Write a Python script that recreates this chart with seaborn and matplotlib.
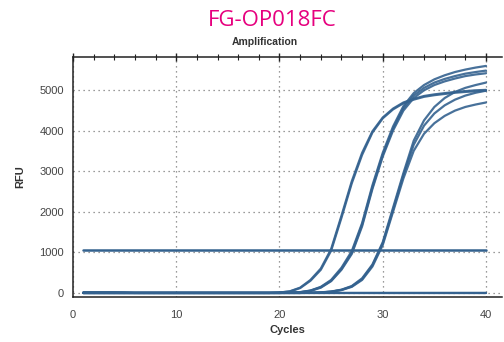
import pandas as pd
import matplotlib
matplotlib.use("Agg")
import matplotlib.pyplot as plt
import seaborn as sns
from matplotlib.ticker import MultipleLocator


# Cycle numbers and RFU readings per well
cycles = list(range(1, 41))

# early group, Ct ~25
well_a1 = [0, 0, 0, 0, 0, 0, 0, 0, 0, 0, 0, 0, 0, 0, 0, 0, 0, 0, 0, 10,
           40, 130, 320, 600, 1080, 1900, 2750, 3450, 3980, 4320,
           4540, 4690, 4780, 4850, 4890, 4920, 4950, 4970, 4990, 5000]
well_a2 = [0, 0, 0, 0, 0, 0, 0, 0, 0, 0, 0, 0, 0, 0, 0, 0, 0, 0, 0, 10,
           35, 120, 300, 570, 1040, 1850, 2700, 3400, 3950, 4300,
           4520, 4670, 4760, 4830, 4870, 4900, 4930, 4950, 4965, 4980]

# middle group, Ct ~27
well_b1 = [0, 0, 0, 0, 0, 0, 0, 0, 0, 0, 0, 0, 0, 0, 0, 0, 0, 0, 0, 0,
           5, 20, 60, 150, 320, 620, 1030, 1720, 2650, 3450,
           4100, 4600, 4920, 5120, 5260, 5360, 5440, 5500, 5550, 5590]
well_b2 = [0, 0, 0, 0, 0, 0, 0, 0, 0, 0, 0, 0, 0, 0, 0, 0, 0, 0, 0, 0,
           5, 18, 55, 140, 300, 590, 990, 1680, 2600, 3400,
           4050, 4550, 4860, 5050, 5180, 5270, 5340, 5400, 5440, 5475]
well_b3 = [0, 0, 0, 0, 0, 0, 0, 0, 0, 0, 0, 0, 0, 0, 0, 0, 0, 0, 0, 0,
           5, 15, 50, 130, 290, 570, 960, 1640, 2560, 3360,
           4000, 4490, 4800, 4990, 5120, 5210, 5280, 5340, 5380, 5410]

# late group, Ct ~30
well_c1 = [0, 0, 0, 0, 0, 0, 0, 0, 0, 0, 0, 0, 0, 0, 0, 0, 0, 0, 0, 0,
           0, 0, 5, 15, 35, 80, 170, 360, 700, 1250,
           2100, 2950, 3750, 4250, 4580, 4800, 4950, 5050, 5120, 5180]
well_c2 = [0, 0, 0, 0, 0, 0, 0, 0, 0, 0, 0, 0, 0, 0, 0, 0, 0, 0, 0, 0,
           0, 0, 5, 12, 30, 75, 160, 340, 680, 1220,
           2050, 2900, 3650, 4120, 4420, 4620, 4760, 4860, 4930, 4980]
well_c3 = [0, 0, 0, 0, 0, 0, 0, 0, 0, 0, 0, 0, 0, 0, 0, 0, 0, 0, 0, 0,
           0, 0, 5, 12, 30, 70, 150, 320, 650, 1180,
           2000, 2820, 3500, 3920, 4180, 4360, 4490, 4580, 4640, 4690]

# negative controls
well_n1 = [20, 20, 20, 20, 15, 0, 0, 0, 0, 0, 0, 0, 0, 0, 0, 0, 0, 0, 0, 0,
           0, 0, 0, 0, 0, 0, 0, 0, 0, 0, 0, 0, 0, 0, 0, 0, 0, 0, 0, 0]
well_n2 = [0, 0, 0, 0, 0, 0, 0, 0, 0, 0, 0, 0, 0, 0, 0, 0, 0, 0, 0, 0,
           0, 0, 0, 0, 0, 0, 0, 0, 0, 0, 0, 0, 0, 0, 0, 0, 0, 0, 0, 0]

threshold_x = [1, 40]
threshold_y = [1065, 1065]

x_ticks = [0, 10, 20, 30, 40]
y_ticks = [0, 1000, 2000, 3000, 4000, 5000]


def build_frame():
    wells = {
        "A1": well_a1, "A2": well_a2,
        "B1": well_b1, "B2": well_b2, "B3": well_b3,
        "C1": well_c1, "C2": well_c2, "C3": well_c3,
        "N1": well_n1, "N2": well_n2,
    }
    rows = []
    for name, vals in wells.items():
        for c, v in zip(cycles, vals):
            rows.append({"Well": name, "Cycle": c, "RFU": v})
    return pd.DataFrame(rows)


def main():
    sns.set_style("white")
    plt.rcParams["font.family"] = ["Liberation Sans", "DejaVu Sans"]

    line_color = "#34628f"
    df = build_frame()

    fig = plt.figure(figsize=(5.04, 3.42), dpi=100)
    ax = fig.add_axes([73 / 504, 1 - 297 / 342, 429 / 504, 240 / 342])

    sns.lineplot(data=df, x="Cycle", y="RFU", units="Well", estimator=None,
                 color=line_color, lw=1.6, alpha=0.9, ax=ax, legend=False)
    sns.lineplot(x=threshold_x, y=threshold_y, color=line_color, lw=1.8, ax=ax)

    ax.set_xlim(0, 41.55)
    ax.set_ylim(-100, 5810)
    ax.set_xticks(x_ticks)
    ax.set_yticks(y_ticks)
    ax.xaxis.set_minor_locator(MultipleLocator(2))
    ax.yaxis.set_minor_locator(MultipleLocator(200))

    ax.grid(True, which="major", color="#7a7a7a", lw=0.9, linestyle=(0, (1, 3)))
    ax.tick_params(which="major", direction="inout", length=6, width=1.0,
                   labelsize=8, labelcolor="#444444", top=True, color="#222222")
    ax.tick_params(which="minor", direction="inout", length=4, width=0.8,
                   top=True, color="#222222")
    ax.tick_params(axis="x", pad=6)

    for side in ["left", "bottom", "top"]:
        ax.spines[side].set_color("#222222")
        ax.spines[side].set_linewidth(1.1)
    ax.spines["right"].set_visible(False)

    ax.set_xlabel("Cycles", fontsize=8, fontweight="bold", color="#333333", labelpad=4)
    ax.set_ylabel("RFU", fontsize=8, fontweight="bold", color="#333333", labelpad=10)

    fig.text(0.54, 0.94, "FG-OP018FC", ha="center", va="center",
             fontsize=16, fontweight="medium", color="#e6007e", family="Open Sans")
    fig.text(265 / 504, 1 - 42 / 342, "Amplification", ha="center", va="center",
             fontsize=7.5, fontweight="bold", color="#333333")

    fig.savefig("out.png", dpi=100)
    plt.close(fig)


if __name__ == "__main__":
    main()
